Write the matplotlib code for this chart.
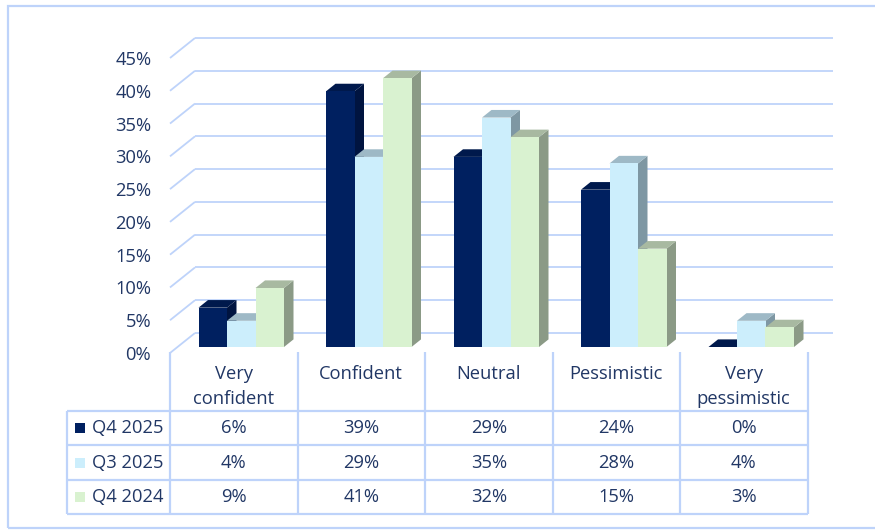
import matplotlib
matplotlib.use("Agg")
import matplotlib.pyplot as plt
from matplotlib.patches import Polygon, Rectangle

# ---- data -------------------------------------------------------------
categories = ["Very\nconfident", "Confident", "Neutral", "Pessimistic", "Very\npessimistic"]
series_names = ["Q4 2025", "Q3 2025", "Q4 2024"]
q4_2025 = [6, 39, 29, 24, 0]
q3_2025 = [4, 29, 35, 28, 4]
q4_2024 = [9, 41, 32, 15, 3]
y_ticks = [0, 5, 10, 15, 20, 25, 30, 35, 40, 45]

series_values = [q4_2025, q3_2025, q4_2024]

# ---- style ------------------------------------------------------------
front_colors = ["#002060", "#CCEEFC", "#D9F2D0"]
top_colors = ["#00194C", "#9EB9C6", "#A8B9A1"]
side_colors = ["#001440", "#7E97A3", "#8B9A86"]
grid_color = "#BED3FA"
text_color = "#213765"
plt.rcParams["font.family"] = ["Open Sans", "DejaVu Sans"]
FS = 13.2

W, H = 875, 530
fig = plt.figure(figsize=(W / 100, H / 100), dpi=100)


def fx(px):
    return px / W


def fy(py):
    return 1 - py / H


# outer chart border
fig.patches.append(Rectangle((fx(8), fy(528)), fx(880), fy(6) - fy(528),
                             transform=fig.transFigure, fill=False,
                             edgecolor=grid_color, lw=1.6, zorder=0))

# ---- 3-D column area -------------------------------------------------
col_px = 127.5
ax = fig.add_axes([fx(170), fy(353), 5 * col_px / W, 295 / H])
ax.set_xlim(-0.5, 4.5)
ax.set_ylim(0, 45)
for s in ax.spines.values():
    s.set_visible(False)
ax.set_facecolor("none")
ax.set_xticks([])
ax.set_yticks(y_ticks)
ax.set_yticklabels([f"{v}%" for v in y_ticks], fontsize=FS, color=text_color)
ax.tick_params(axis="y", length=0, pad=13.5)

# depth of the chart box, in data units
DX = 25 / col_px
DY = 20 / (295 / 45)
f_front, f_back = 0.3, 0.68

# walls: slanted lines on the side wall, horizontal lines on the back wall
for v in y_ticks:
    ax.plot([-0.5, -0.5 + DX], [v, v + DY], color=grid_color, lw=1.3,
            clip_on=False, zorder=1, solid_capstyle="butt")
    ax.plot([-0.5 + DX, 4.5 + DX], [v + DY, v + DY], color=grid_color, lw=1.3,
            clip_on=False, zorder=1, solid_capstyle="butt")

bw = 28.5 / col_px
d = f_back - f_front
for j, vals in enumerate(series_values):
    xs = [i - 1.5 * bw + j * bw + f_front * DX for i in range(len(vals))]
    y0 = f_front * DY
    for x0, h in zip(xs, vals):
        side = Polygon([(x0 + bw, y0), (x0 + bw + d * DX, y0 + d * DY),
                        (x0 + bw + d * DX, y0 + h + d * DY), (x0 + bw, y0 + h)],
                       closed=True, facecolor=side_colors[j], edgecolor="none",
                       zorder=3 + 3 * j, clip_on=False)
        top = Polygon([(x0, y0 + h), (x0 + bw, y0 + h),
                       (x0 + bw + d * DX, y0 + h + d * DY), (x0 + d * DX, y0 + h + d * DY)],
                      closed=True, facecolor=top_colors[j], edgecolor="none",
                      zorder=4 + 3 * j, clip_on=False)
        ax.add_patch(side)
        ax.add_patch(top)
    ax.bar(xs, vals, width=bw, bottom=y0, align="edge", color=front_colors[j],
           edgecolor="none", zorder=5 + 3 * j, clip_on=False)

# ---- data table -------------------------------------------------------
row_px = 34.33
tax = fig.add_axes([fx(170), fy(514), 5 * col_px / W, (514 - 352) / H])
tax.set_xlim(-0.5, 4.5)
top_y = (514 - 352) / row_px
tax.set_ylim(0, top_y)
tax.axis("off")

label_left = -0.5 - 103 / col_px
lw_t = 1.6
for r in range(4):
    tax.plot([label_left, 4.5], [r, r], color=grid_color, lw=lw_t,
             clip_on=False, solid_capstyle="butt")
for k in range(6):
    tax.plot([-0.5 + k, -0.5 + k], [0, top_y], color=grid_color, lw=lw_t,
             clip_on=False, solid_capstyle="butt")
tax.plot([label_left, label_left], [0, 3], color=grid_color, lw=lw_t,
         clip_on=False, solid_capstyle="butt")

# column headers
for i, cat in enumerate(categories):
    tax.text(i, top_y - 13 / row_px, cat, ha="center", va="top", fontsize=FS,
             color=text_color, linespacing=1.5)

# rows: legend key, series name, values
for j, (name, vals) in enumerate(zip(series_names, series_values)):
    yc = 2.5 - j
    tax.scatter([label_left + 12.5 / col_px], [yc], marker="s", s=52,
                color=front_colors[j], clip_on=False, linewidths=0)
    tax.text(label_left + 25 / col_px, yc, name, ha="left", va="center",
             fontsize=FS, color=text_color)
    for i, v in enumerate(vals):
        tax.text(i, yc, f"{v}%", ha="center", va="center", fontsize=FS,
                 color=text_color)

fig.savefig("out.png", dpi=100, facecolor="white")
